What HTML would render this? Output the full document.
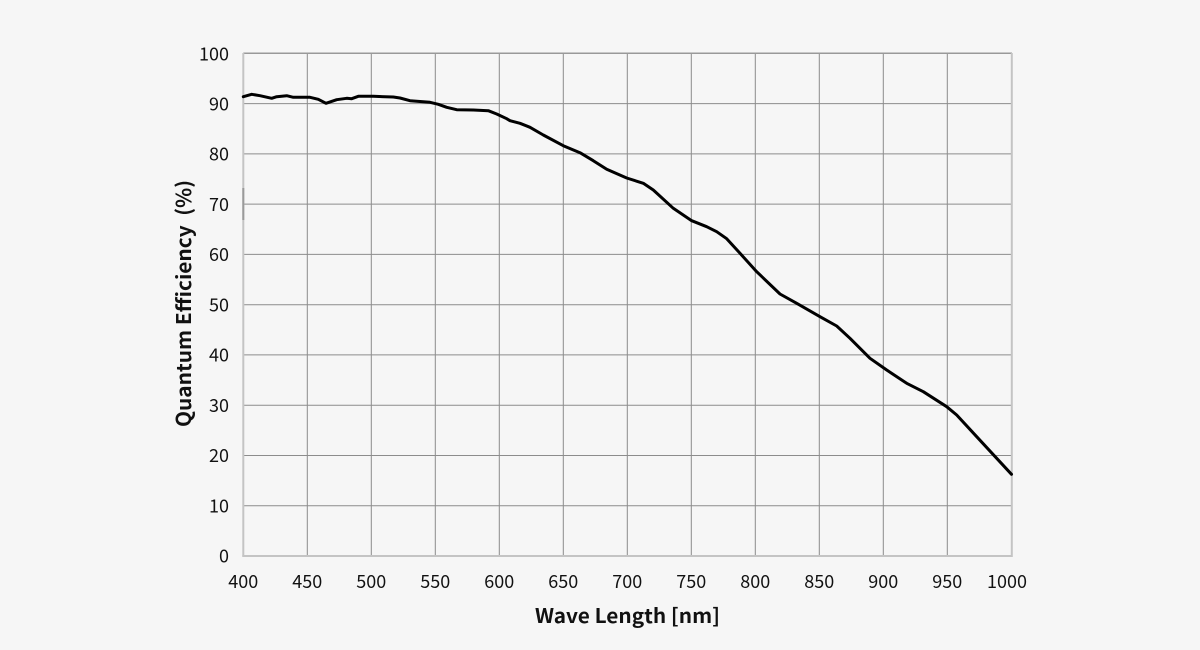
<!DOCTYPE html>
<html>
<head>
<meta charset="utf-8">
<style>
html,body{margin:0;padding:0;background:#f6f6f6;}
svg{display:block;}
text{font-family:"Noto Sans CJK JP","Liberation Sans",sans-serif;fill:#111;}
</style>
</head>
<body>
<svg width="1200" height="650" viewBox="0 0 1200 650" xmlns="http://www.w3.org/2000/svg">
<rect x="0" y="0" width="1200" height="650" fill="#f6f6f6"/>
<!-- grid -->
<g stroke="#8c8c8c" stroke-width="1">
<line x1="243.3" y1="103.6" x2="1011.5" y2="103.6"/>
<line x1="243.3" y1="153.9" x2="1011.5" y2="153.9"/>
<line x1="243.3" y1="204.1" x2="1011.5" y2="204.1"/>
<line x1="243.3" y1="254.4" x2="1011.5" y2="254.4"/>
<line x1="243.3" y1="304.7" x2="1011.5" y2="304.7"/>
<line x1="243.3" y1="354.9" x2="1011.5" y2="354.9"/>
<line x1="243.3" y1="405.2" x2="1011.5" y2="405.2"/>
<line x1="243.3" y1="455.5" x2="1011.5" y2="455.5"/>
<line x1="243.3" y1="505.7" x2="1011.5" y2="505.7"/>
<line x1="307.3" y1="53.3" x2="307.3" y2="556"/>
<line x1="371.3" y1="53.3" x2="371.3" y2="556"/>
<line x1="435.3" y1="53.3" x2="435.3" y2="556"/>
<line x1="499.3" y1="53.3" x2="499.3" y2="556"/>
<line x1="563.3" y1="53.3" x2="563.3" y2="556"/>
<line x1="627.3" y1="53.3" x2="627.3" y2="556"/>
<line x1="691.3" y1="53.3" x2="691.3" y2="556"/>
<line x1="755.3" y1="53.3" x2="755.3" y2="556"/>
<line x1="819.3" y1="53.3" x2="819.3" y2="556"/>
<line x1="883.3" y1="53.3" x2="883.3" y2="556"/>
<line x1="947.3" y1="53.3" x2="947.3" y2="556"/>
</g>
<line x1="243.3" y1="53.3" x2="1012" y2="53.3" stroke="#999" stroke-width="1.5"/>
<!-- axes -->
<g stroke="#c4c4c4" stroke-width="2" fill="none">
<line x1="243.3" y1="53" x2="243.3" y2="556.5"/>
<line x1="242.3" y1="556" x2="1012.5" y2="556"/>
<line x1="1011.8" y1="53" x2="1011.8" y2="557"/>
</g>
<line x1="243.3" y1="188" x2="243.3" y2="220" stroke="#9a9a9a" stroke-width="2"/>
<!-- curve -->
<polyline fill="none" stroke="#000" stroke-width="3" stroke-linejoin="round" stroke-linecap="round" points="
243.3,96.7 251.7,94.3 260,95.7 271.7,98.3 276.7,96.7 286.7,95.7 293.3,97.3 300,97.3 310,97.3 318.3,99.3 326,103.3 336.7,99.7 346.7,98.3 351.7,98.7 358.3,96.3 373.3,96.3 393.3,97 400,98 410,100.7 430,102.3 438.3,104.3 446.7,107.3 456.7,109.7 473.3,110 488.3,110.7 496.7,114 506.7,118.7 510,120.7 520,123.3 530,127.3 543.3,135 563.3,145.7 580,152.7 593.3,160.7 606.7,169.3 626.7,178 643.3,183.3 653.3,190 673.3,208.3 691.7,220.7 706.7,226.7 716.7,231.7 726.7,238.7 740,253.3 756.7,271.7 780,294 796.7,303.3 820,316.7 836.7,326 850,338.3 870,358.3 886.7,370 906.7,383.3 923.3,391.7 946.7,406.7 956.7,415 976.7,436.7 996.7,458.3 1011.5,474.3"/>
<!-- y tick labels -->
<g font-size="18" text-anchor="end">
<text x="229" y="60.5">100</text>
<text x="229" y="110.3">90</text>
<text x="229" y="160.6">80</text>
<text x="229" y="210.8">70</text>
<text x="229" y="261.1">60</text>
<text x="229" y="311.4">50</text>
<text x="229" y="361.6">40</text>
<text x="229" y="411.9">30</text>
<text x="229" y="462.2">20</text>
<text x="229" y="512.4">10</text>
<text x="229" y="562.7">0</text>
</g>
<!-- x tick labels -->
<g font-size="18" text-anchor="middle">
<text x="243.3" y="588">400</text>
<text x="307.3" y="588">450</text>
<text x="371.3" y="588">500</text>
<text x="435.3" y="588">550</text>
<text x="499.3" y="588">600</text>
<text x="563.3" y="588">650</text>
<text x="627.3" y="588">700</text>
<text x="691.3" y="588">750</text>
<text x="755.3" y="588">800</text>
<text x="819.3" y="588">850</text>
<text x="883.3" y="588">900</text>
<text x="947.3" y="588">950</text>
<text x="1007" y="588">1000</text>
</g>
<!-- axis titles -->
<text x="535" y="623" font-size="20" font-weight="bold" textLength="185" lengthAdjust="spacingAndGlyphs">Wave Length [nm]</text>
<text transform="translate(191,427) rotate(-90)" x="0" y="0" font-size="20" font-weight="bold" textLength="247" lengthAdjust="spacingAndGlyphs" xml:space="preserve">Quantum Efficiency &#160;(%)</text>
</svg>
</body>
</html>
